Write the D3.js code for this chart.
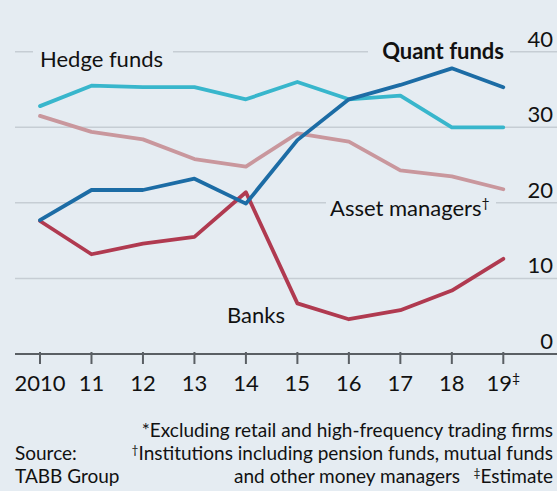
<!DOCTYPE html>
<html><head><meta charset="utf-8">
<script src="https://cdn.jsdelivr.net/npm/d3@7"></script>
<style>
html,body{margin:0;padding:0;background:#e5ecf2;}
svg{display:block;}
text{font-family:Lato,"Liberation Sans",sans-serif;fill:#111;}
</style></head>
<body>
<script>
const years = [2010,2011,2012,2013,2014,2015,2016,2017,2018,2019];
const yearLabels = ["2010","11","12","13","14","15","16","17","18","19"];
const hedgeFunds = [32.8,35.5,35.3,35.3,33.7,36.0,33.7,34.2,30.0,30.0];
const quantFunds = [17.7,21.7,21.7,23.2,19.9,28.3,33.7,35.6,37.8,35.3];
const assetManagers = [31.5,29.4,28.4,25.8,24.8,29.2,28.1,24.3,23.5,21.8];
const banks = [17.6,13.2,14.6,15.5,21.4,6.7,4.6,5.8,8.4,12.6];
const yTicks = [0,10,20,30,40];
const footnotes = ["*Excluding retail and high-frequency trading firms","Institutions including pension funds, mutual funds","and other money managers","Estimate"];
const source = ["Source:","TABB Group"];

const W=557,H=491;
const svg=d3.select("body").append("svg").attr("width",W).attr("height",H);
svg.append("rect").attr("width",W).attr("height",H).attr("fill","#e5ecf2");

const x=d3.scaleLinear().domain([2010,2019]).range([40,503.3]);
const y=d3.scaleLinear().domain([0,40]).range([354,51.7]);

// gridlines
svg.append("g").selectAll("line").data(yTicks.filter(d=>d>0)).join("line")
  .attr("x1",15).attr("x2",W).attr("y1",d=>y(d)).attr("y2",d=>y(d))
  .attr("stroke","#c6cdd4").attr("stroke-width",1.5);

// right labels
svg.append("g").selectAll("text").data(yTicks).join("text")
  .attr("x",553).attr("y",d=>y(d)-5).attr("text-anchor","end")
  .attr("font-size",22).text(d=>d);

// label backgrounds (knock out gridlines)
const bg="#e5ecf2";
const knock=[[33,173,44,62],[368,510,44,62],[326,496,195,210]];
svg.append("g").selectAll("rect").data(knock).join("rect")
  .attr("x",d=>d[0]).attr("width",d=>d[1]-d[0]).attr("y",d=>d[2]).attr("height",d=>d[3]-d[2])
  .attr("fill",bg);

// axis
const axisG=svg.append("g");
axisG.append("line").attr("x1",15).attr("x2",W).attr("y1",y(0)).attr("y2",y(0))
  .attr("stroke","#5a5f64").attr("stroke-width",2);
axisG.selectAll("line.tick").data(years).join("line").attr("class","tick")
  .attr("x1",d=>x(d)).attr("x2",d=>x(d)).attr("y1",y(0)-2).attr("y2",y(0)+10)
  .attr("stroke","#5a5f64").attr("stroke-width",2);
const tl=axisG.selectAll("text").data(years).join("text")
  .attr("x",d=>x(d)).attr("y",391).attr("text-anchor","middle").attr("font-size",22);
tl.each(function(d,i){
  const t=d3.select(this);
  t.append("tspan").text(yearLabels[i]);
  if(i===years.length-1){t.append("tspan").attr("font-size",14).attr("dy",-8).text("‡");}
});

// lines
const line=d3.line().x((d,i)=>x(years[i])).y(d=>y(d));
const series=[
  {v:assetManagers,c:"#c9979d"},
  {v:hedgeFunds,c:"#38b6cc"},
  {v:banks,c:"#b03a50"},
  {v:quantFunds,c:"#1c6ca5"}
];
svg.append("g").selectAll("path").data(series).join("path")
  .attr("d",d=>line(d.v)).attr("fill","none").attr("stroke",d=>d.c)
  .attr("stroke-width",3.8).attr("stroke-linejoin","round").attr("stroke-linecap","round");

// series labels
svg.append("text").attr("x",40).attr("y",67).attr("font-size",22).text("Hedge funds");
svg.append("text").attr("x",504).attr("y",59).attr("font-size",22).attr("font-weight","bold").attr("text-anchor","end").text("Quant funds");
const am=svg.append("text").attr("x",330).attr("y",216).attr("font-size",22);
am.append("tspan").text("Asset managers");
am.append("tspan").attr("font-size",14).attr("dy",-8).text("†");
svg.append("text").attr("x",227).attr("y",323).attr("font-size",22).text("Banks");

// footnotes
const fn=svg.append("g");
fn.append("text").attr("x",553).attr("y",437).attr("text-anchor","end").attr("font-size",19).text(footnotes[0]);
const f2=fn.append("text").attr("x",553).attr("y",460).attr("text-anchor","end").attr("font-size",19);
f2.append("tspan").attr("font-size",12).attr("dy",-6).text("†");
f2.append("tspan").attr("dy",6).text(footnotes[1]);
fn.append("text").attr("x",460).attr("y",483).attr("text-anchor","end").attr("font-size",19).text(footnotes[2]);
const f3=fn.append("text").attr("x",553).attr("y",483).attr("text-anchor","end").attr("font-size",19);
f3.append("tspan").attr("font-size",12).attr("dy",-6).text("‡");
f3.append("tspan").attr("dy",6).text(footnotes[3]);
fn.append("text").attr("x",15).attr("y",460).attr("font-size",19).text(source[0]);
fn.append("text").attr("x",15).attr("y",483).attr("font-size",19).text(source[1]);
</script>
</body></html>
